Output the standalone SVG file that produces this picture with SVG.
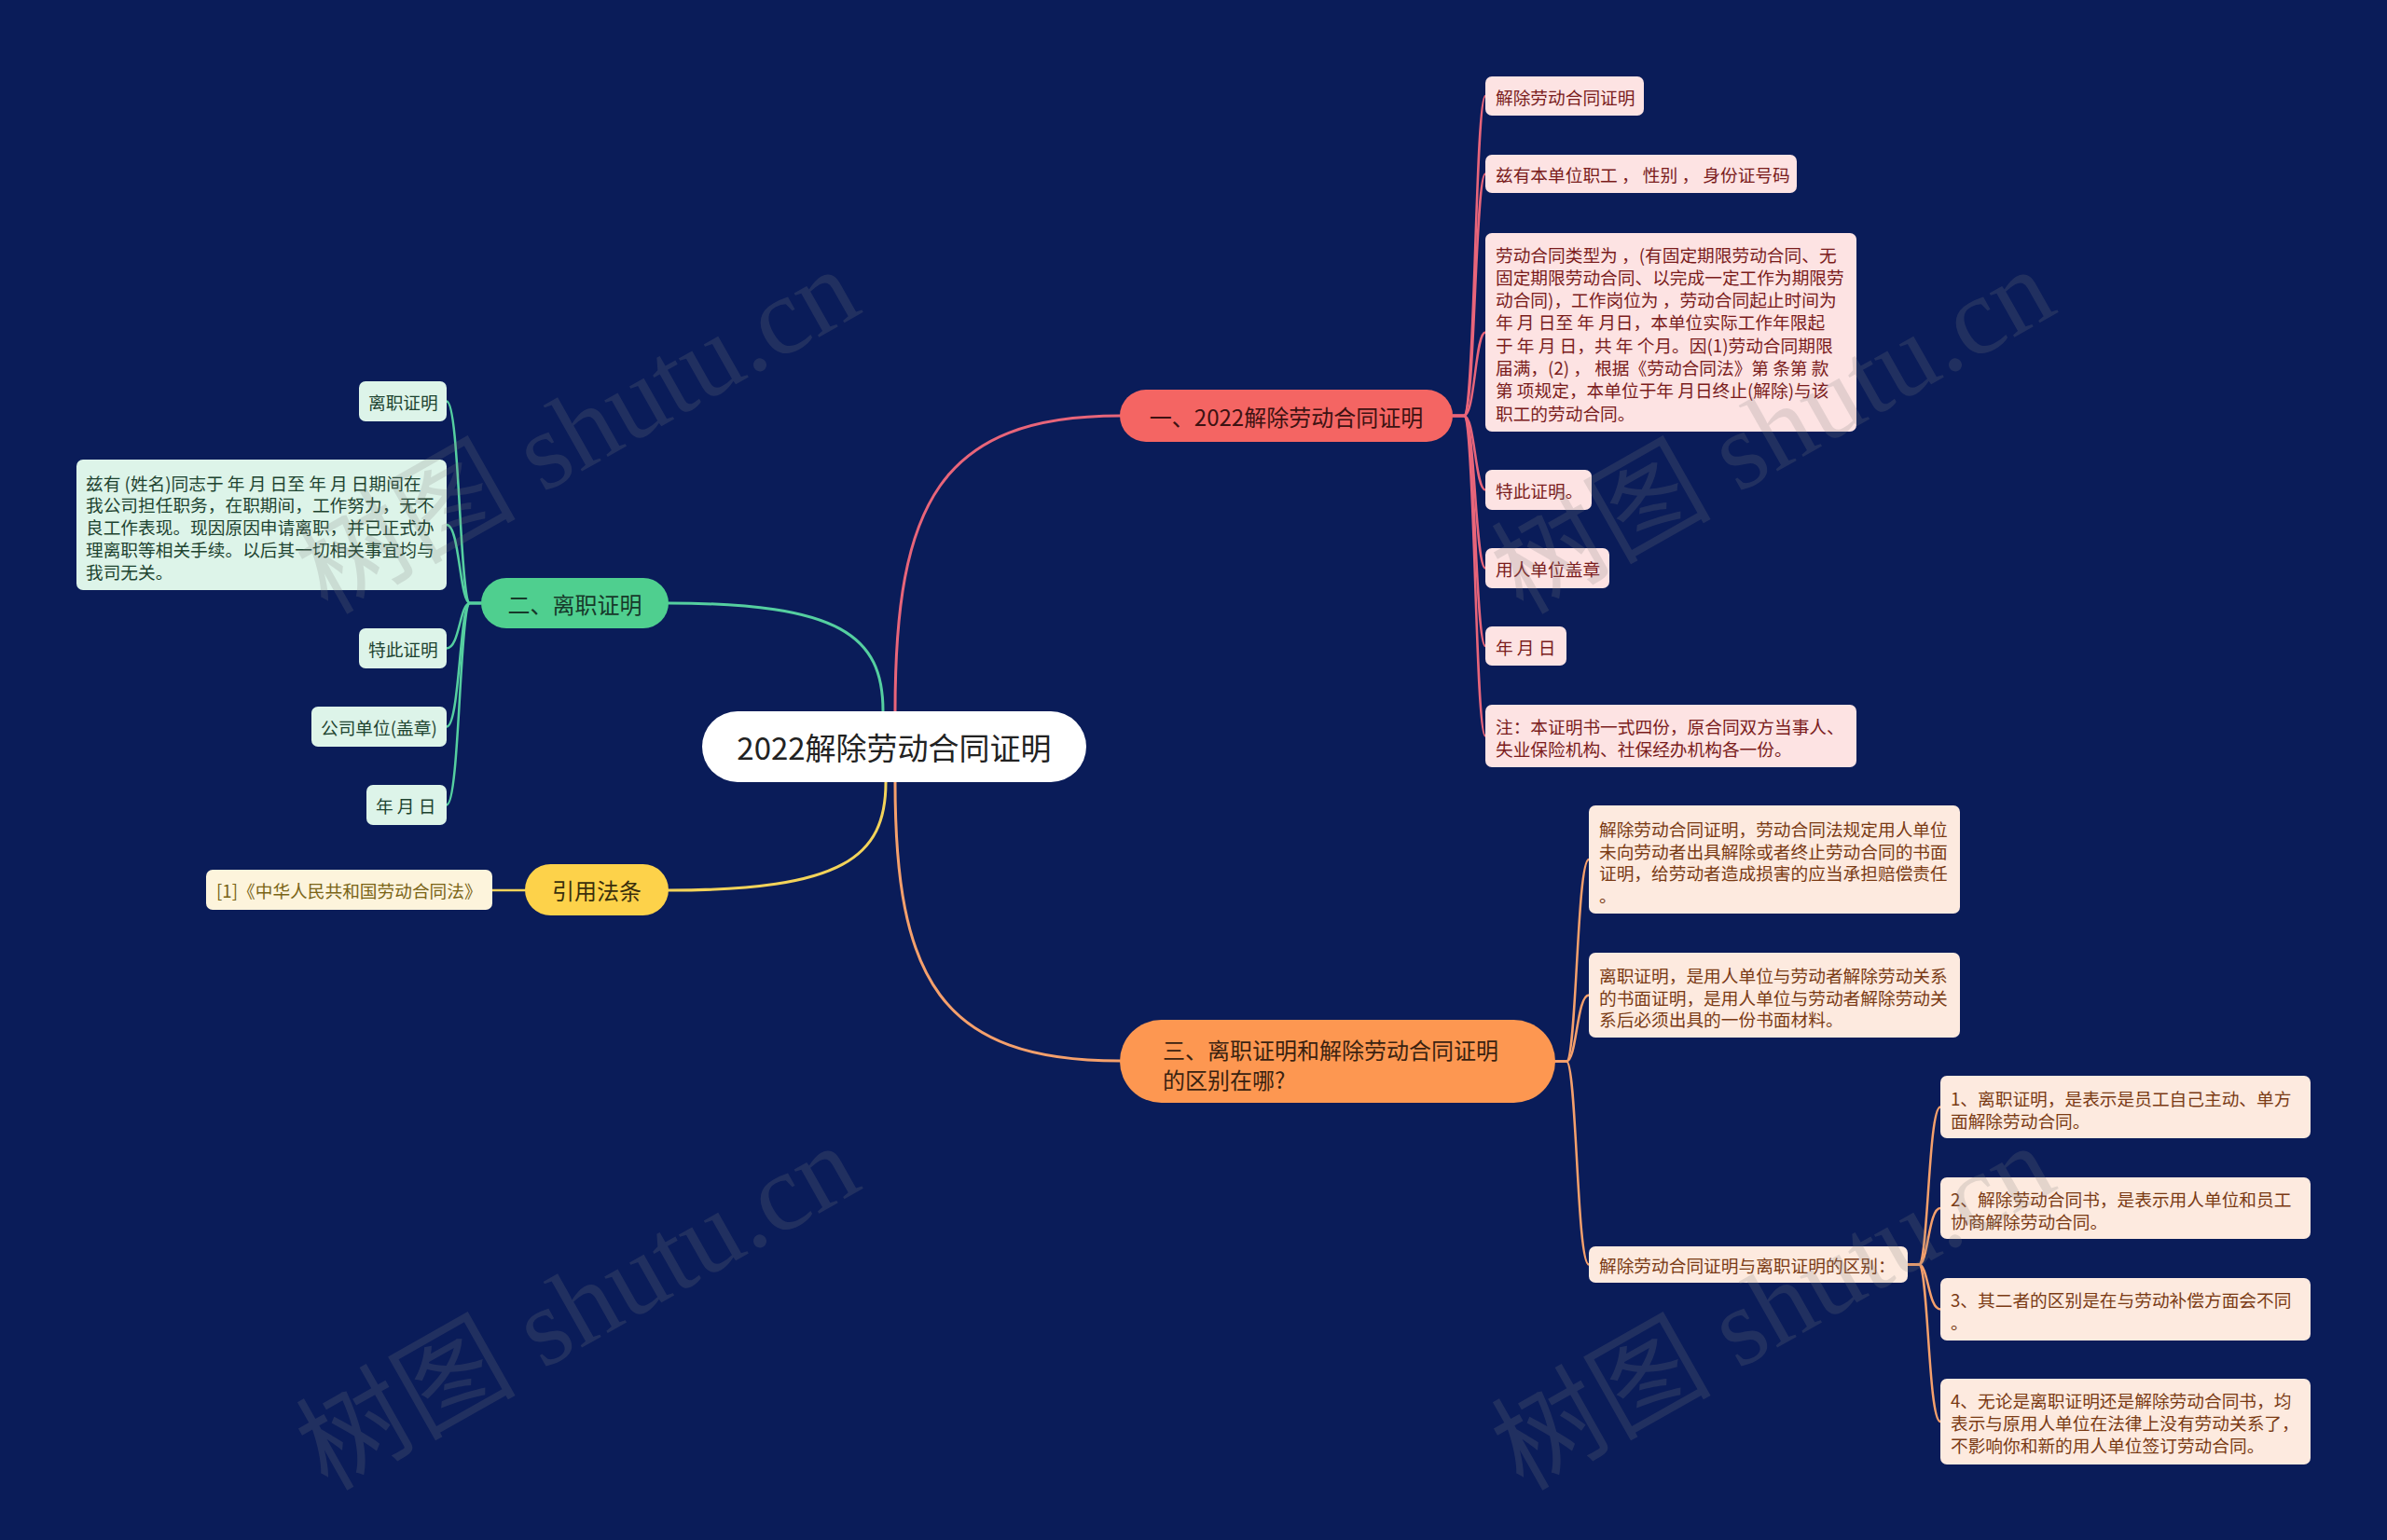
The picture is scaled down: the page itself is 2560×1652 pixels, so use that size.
<svg xmlns="http://www.w3.org/2000/svg" width="2560" height="1652" viewBox="0 0 2560 1652">
<style>
.t{font-family:"Noto Sans CJK SC","Noto Sans",sans-serif;dominant-baseline:central}
.s{font-size:18.7px}
.b{font-size:24px}
.ln{fill:none;stroke-linecap:round}
.main{stroke-width:3}
.sub{stroke-width:2.5}
.rbox{fill:#fde3e3}.rt{fill:#7a1c1c}
.gbox{fill:#ddf4e9}.gt{fill:#1d4330}
.ybox{fill:#fdf4dc}.yt{fill:#7a6416}
.obox{fill:#fdeadf}.ot{fill:#7a3a14}
.wm{font-family:"Liberation Serif","Noto Sans CJK SC",serif;font-size:118px;fill:#808080;opacity:0.2}
</style>
<rect x="0" y="0" width="2560" height="1652" fill="#0a1c59"/>

<g id="connectors">
  <path class="ln main" stroke="#e8657a" d="M 960 763 C 960 541 1008 446 1201 446"/>
  <path class="ln main" stroke="#55cfa0" d="M 947 763 C 947 682 901 647 717 647"/>
  <path class="ln main" stroke="#f3d35a" d="M 950 839 C 950 920 903 955 717 955"/>
  <path class="ln main" stroke="#f5a06c" d="M 960 839 C 960 1049 1008 1138 1201 1138"/>

  <g stroke="#e8657a" class="ln sub">
    <path d="M 1558 446 H 1570 C 1582 446 1582 103 1593 103"/>
    <path d="M 1558 446 H 1570 C 1582 446 1582 186.5 1593 186.5"/>
    <path d="M 1558 446 H 1570 C 1582 446 1582 356.5 1593 356.5"/>
    <path d="M 1558 446 H 1570 C 1582 446 1582 525.5 1593 525.5"/>
    <path d="M 1558 446 H 1570 C 1582 446 1582 609.5 1593 609.5"/>
    <path d="M 1558 446 H 1570 C 1582 446 1582 693 1593 693"/>
    <path d="M 1558 446 H 1570 C 1582 446 1582 789.5 1593 789.5"/>
  </g>
  <g stroke="#55cfa0" class="ln sub">
    <path d="M 516 647 H 504 C 493 647 493 430.5 479 430.5"/>
    <path d="M 516 647 H 504 C 493 647 493 563 479 563"/>
    <path d="M 516 647 H 504 C 493 647 493 695.5 479 695.5"/>
    <path d="M 516 647 H 504 C 493 647 493 779.5 479 779.5"/>
    <path d="M 516 647 H 504 C 493 647 493 863.5 479 863.5"/>
  </g>
  <path class="ln sub" stroke="#f3d35a" d="M 563 955 H 528"/>
  <g stroke="#f5a06c" class="ln sub">
    <path d="M 1668 1138.5 H 1680 C 1691 1138.5 1691 922 1704 922"/>
    <path d="M 1668 1138.5 H 1680 C 1691 1138.5 1691 1067.5 1704 1067.5"/>
    <path d="M 1668 1138.5 H 1680 C 1691 1138.5 1691 1356.5 1704 1356.5"/>
    <path d="M 2046 1356.5 H 2058 C 2068 1356.5 2068 1187.5 2081 1187.5"/>
    <path d="M 2046 1356.5 H 2058 C 2068 1356.5 2068 1296 2081 1296"/>
    <path d="M 2046 1356.5 H 2058 C 2068 1356.5 2068 1404.5 2081 1404.5"/>
    <path d="M 2046 1356.5 H 2058 C 2068 1356.5 2068 1525 2081 1525"/>
  </g>
</g>

<g id="center">
  <rect x="753" y="763" width="412" height="76" rx="38" fill="#ffffff"/>
  <text class="t" x="959" y="801" text-anchor="middle" font-size="33" fill="#222222">2022解除劳动合同证明</text>
</g>

<g id="branch1">
  <rect x="1201" y="418" width="357" height="56" rx="28" fill="#f46563"/>
  <text class="t b" x="1379.5" y="446" text-anchor="middle" fill="#3d1212">一、2022解除劳动合同证明</text>
</g>
<g id="b1c1"><rect class="rbox" x="1593" y="82" width="170" height="42" rx="7"/><text class="t s rt" x="1604" y="103">解除劳动合同证明</text></g>
<g id="b1c2"><rect class="rbox" x="1593" y="166" width="334" height="41" rx="7"/><text class="t s rt" x="1604" y="186.5">兹有本单位职工 ， 性别 ， 身份证号码</text></g>
<g id="b1c3"><rect class="rbox" x="1593" y="250" width="398" height="213" rx="7"/>
  <text class="t s rt">
    <tspan x="1604" y="271.5">劳动合同类型为 ，(有固定期限劳动合同、无</tspan>
    <tspan x="1604" y="295.8">固定期限劳动合同、以完成一定工作为期限劳</tspan>
    <tspan x="1604" y="320.1">动合同)，工作岗位为 ，劳动合同起止时间为</tspan>
    <tspan x="1604" y="344.4">年 月 日至 年 月日，本单位实际工作年限起</tspan>
    <tspan x="1604" y="368.7">于 年 月 日，共 年 个月。因(1)劳动合同期限</tspan>
    <tspan x="1604" y="393">届满，(2) ， 根据《劳动合同法》第 条第 款</tspan>
    <tspan x="1604" y="417.3">第 项规定，本单位于年 月日终止(解除)与该</tspan>
    <tspan x="1604" y="441.6">职工的劳动合同。</tspan>
  </text></g>
<g id="b1c4"><rect class="rbox" x="1593" y="504" width="114" height="43" rx="7"/><text class="t s rt" x="1604" y="525.5">特此证明。</text></g>
<g id="b1c5"><rect class="rbox" x="1593" y="588" width="133" height="43" rx="7"/><text class="t s rt" x="1604" y="609.5">用人单位盖章</text></g>
<g id="b1c6"><rect class="rbox" x="1593" y="672" width="87" height="42" rx="7"/><text class="t s rt" x="1604" y="693">年 月 日</text></g>
<g id="b1c7"><rect class="rbox" x="1593" y="756" width="398" height="67" rx="7"/>
  <text class="t s rt"><tspan x="1604" y="778">注：本证明书一式四份，原合同双方当事人、</tspan><tspan x="1604" y="802">失业保险机构、社保经办机构各一份。</tspan></text></g>

<g id="branch2">
  <rect x="516" y="620" width="201" height="54" rx="27" fill="#4fcf8f"/>
  <text class="t b" x="616.5" y="647" text-anchor="middle" fill="#17392a">二、离职证明</text>
</g>
<g id="b2c1"><rect class="gbox" x="385" y="409" width="94" height="43" rx="7"/><text class="t s gt" x="395" y="430.5">离职证明</text></g>
<g id="b2c2"><rect class="gbox" x="82" y="493" width="397" height="140" rx="7"/>
  <text class="t s gt">
    <tspan x="92" y="516.5">兹有 (姓名)同志于 年 月 日至 年 月 日期间在</tspan>
    <tspan x="92" y="540.3">我公司担任职务，在职期间，工作努力，无不</tspan>
    <tspan x="92" y="564.1">良工作表现。现因原因申请离职，并已正式办</tspan>
    <tspan x="92" y="587.9">理离职等相关手续。以后其一切相关事宜均与</tspan>
    <tspan x="92" y="611.7">我司无关。</tspan>
  </text></g>
<g id="b2c3"><rect class="gbox" x="385" y="674" width="94" height="43" rx="7"/><text class="t s gt" x="395" y="695.5">特此证明</text></g>
<g id="b2c4"><rect class="gbox" x="334" y="758" width="145" height="43" rx="7"/><text class="t s gt" x="344" y="779.5">公司单位(盖章)</text></g>
<g id="b2c5"><rect class="gbox" x="393" y="842" width="86" height="43" rx="7"/><text class="t s gt" x="403" y="863.5">年 月 日</text></g>

<g id="branch-law">
  <rect x="563" y="927" width="154" height="55" rx="27.5" fill="#fdd24a"/>
  <text class="t b" x="640" y="954.5" text-anchor="middle" fill="#3a2f0c">引用法条</text>
</g>
<g id="law1"><rect class="ybox" x="221" y="933" width="307" height="43" rx="7"/><text class="t s yt" x="232" y="954.5">[1]《中华人民共和国劳动合同法》</text></g>

<g id="branch3">
  <rect x="1201" y="1094" width="467" height="89" rx="44.5" fill="#fd9751"/>
  <text class="t b" fill="#3a2210"><tspan x="1247" y="1125">三、离职证明和解除劳动合同证明</tspan><tspan x="1247" y="1157">的区别在哪?</tspan></text>
</g>
<g id="b3c1"><rect class="obox" x="1704" y="864" width="398" height="116" rx="7"/>
  <text class="t s ot">
    <tspan x="1715" y="888">解除劳动合同证明，劳动合同法规定用人单位</tspan>
    <tspan x="1715" y="911.6">未向劳动者出具解除或者终止劳动合同的书面</tspan>
    <tspan x="1715" y="935.2">证明，给劳动者造成损害的应当承担赔偿责任</tspan>
    <tspan x="1715" y="958.8">。</tspan>
  </text></g>
<g id="b3c2"><rect class="obox" x="1704" y="1022" width="398" height="91" rx="7"/>
  <text class="t s ot">
    <tspan x="1715" y="1045">离职证明，是用人单位与劳动者解除劳动关系</tspan>
    <tspan x="1715" y="1068.5">的书面证明，是用人单位与劳动者解除劳动关</tspan>
    <tspan x="1715" y="1092">系后必须出具的一份书面材料。</tspan>
  </text></g>
<g id="b3c3"><rect class="obox" x="1704" y="1337" width="342" height="39" rx="7"/><text class="t s ot" x="1715" y="1356.5">解除劳动合同证明与离职证明的区别：</text></g>
<g id="b3d1"><rect class="obox" x="2081" y="1154" width="397" height="67" rx="7"/>
  <text class="t s ot"><tspan x="2092" y="1177">1、离职证明，是表示是员工自己主动、单方</tspan><tspan x="2092" y="1200.5">面解除劳动合同。</tspan></text></g>
<g id="b3d2"><rect class="obox" x="2081" y="1263" width="397" height="66" rx="7"/>
  <text class="t s ot"><tspan x="2092" y="1285">2、解除劳动合同书，是表示用人单位和员工</tspan><tspan x="2092" y="1308.5">协商解除劳动合同。</tspan></text></g>
<g id="b3d3"><rect class="obox" x="2081" y="1371" width="397" height="67" rx="7"/>
  <text class="t s ot"><tspan x="2092" y="1393">3、其二者的区别是在与劳动补偿方面会不同</tspan><tspan x="2092" y="1416.5">。</tspan></text></g>
<g id="b3d4"><rect class="obox" x="2081" y="1479" width="397" height="92" rx="7"/>
  <text class="t s ot">
    <tspan x="2092" y="1501">4、无论是离职证明还是解除劳动合同书，均</tspan>
    <tspan x="2092" y="1525">表示与原用人单位在法律上没有劳动关系了，</tspan>
    <tspan x="2092" y="1549">不影响你和新的用人单位签订劳动合同。</tspan>
  </text></g>

<g id="watermarks">
  <text class="wm" transform="translate(351,660) rotate(-29.5)">树图 shutu.cn</text>
  <text class="wm" transform="translate(1633,660) rotate(-29.5)">树图 shutu.cn</text>
  <text class="wm" transform="translate(351,1600) rotate(-29.5)">树图 shutu.cn</text>
  <text class="wm" transform="translate(1633,1600) rotate(-29.5)">树图 shutu.cn</text>
</g>
</svg>
